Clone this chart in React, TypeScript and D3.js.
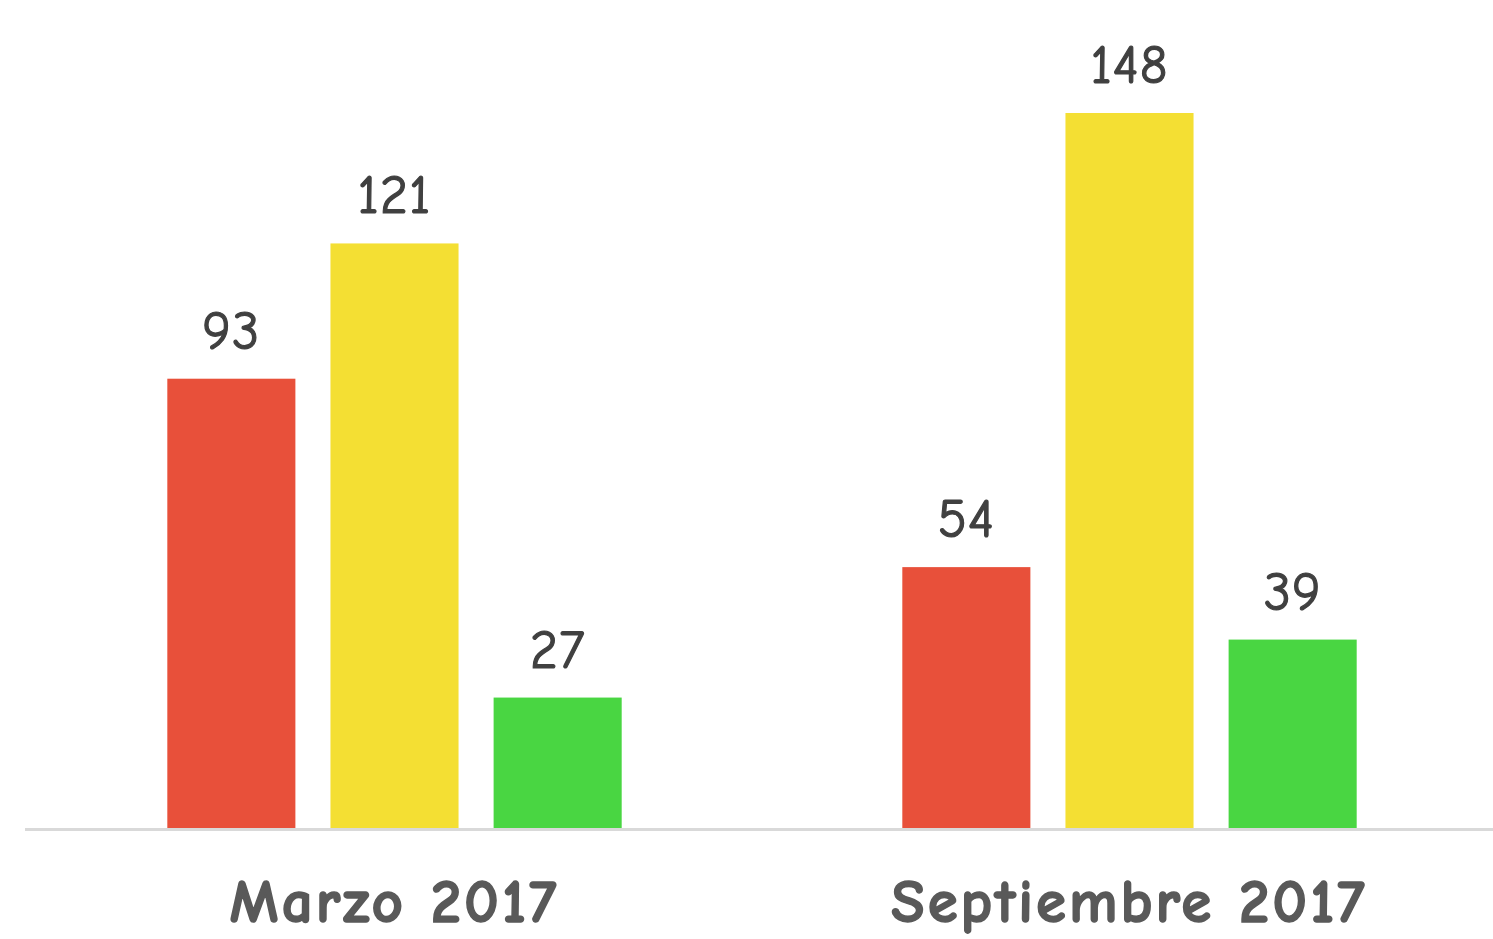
import * as d3 from "d3";
import { useEffect } from "react";

const categories = ["Marzo 2017", "Septiembre 2017"];
const seriesKeys = ["rojo", "amarillo", "verde"];
const seriesColors = ["#E8503A", "#F4DF33", "#49D642"];
const rojoValues = [93, 54];
const amarilloValues = [121, 148];
const verdeValues = [27, 39];

const width = 1493;
const height = 939;
const margin = { top: 113, bottom: 111, left: 25 };
const fontStack = "'Comic Sans MS', 'Comic Neue', 'DejaVu Sans', sans-serif";

function App() {
  useEffect(() => {
    document.body.style.margin = "0";
  }, []);

  const rows = categories.map((cat, i) => ({
    cat,
    values: [rojoValues[i], amarilloValues[i], verdeValues[i]],
  }));

  const baseY = height - margin.bottom;
  // groups are centred a little right of the axis line
  const x0 = d3.scaleBand().domain(categories).range([27, 1497]).padding(0);

  const x1 = d3
    .scaleBand()
    .domain(seriesKeys)
    .range([0, x0.bandwidth()])
    .paddingInner(0.215)
    .paddingOuter(0.86);

  const y = d3.scaleLinear().domain([0, 148]).range([baseY, margin.top]);

  return (
    <svg width={width} height={height} style={{ display: "block", background: "#fff" }}>
      {rows.map((row) => (
        <g key={row.cat} transform={`translate(${x0(row.cat)},0)`}>
          {row.values.map((v, j) => (
            <g key={seriesKeys[j]}>
              <rect
                x={x1(seriesKeys[j])}
                y={y(v)}
                width={x1.bandwidth()}
                height={baseY - y(v)}
                fill={seriesColors[j]}
              />
              <text
                x={(x1(seriesKeys[j]) ?? 0) + x1.bandwidth() / 2}
                y={y(v) - 30}
                textAnchor="middle"
                fill="#404040"
                stroke="#404040"
                strokeWidth={1.2}
                fontFamily={fontStack}
                fontSize={54}
                letterSpacing={1}
              >
                {v}
              </text>
            </g>
          ))}
          <text
            x={x0.bandwidth() / 2}
            y={922}
            textAnchor="middle"
            fill="#595959"
            stroke="#595959"
            strokeWidth={1.5}
            fontFamily={fontStack}
            fontWeight="bold"
            fontSize={61}
            letterSpacing={3}
          >
            {row.cat}
          </text>
        </g>
      ))}
      <line
        x1={margin.left}
        x2={width}
        y1={baseY + 1.5}
        y2={baseY + 1.5}
        stroke="#d9d9d9"
        strokeWidth={3}
      />
    </svg>
  );
}

export default App;
